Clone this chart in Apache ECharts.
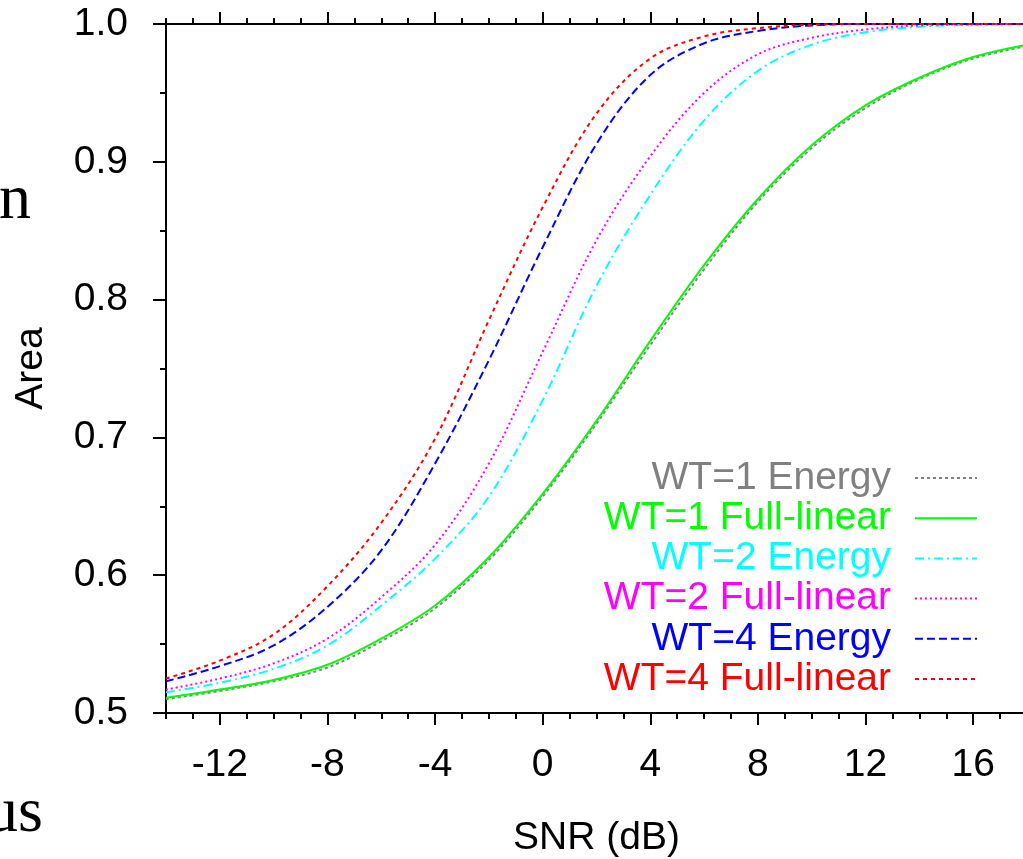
<!DOCTYPE html>
<html>
<head>
<meta charset="utf-8">
<script src="https://cdn.jsdelivr.net/npm/echarts@6/dist/echarts.min.js"></script>
<style>
html,body{margin:0;padding:0;background:#fff;overflow:hidden;}
#chart{width:1023px;height:859px;}
</style>
</head>
<body>
<div id="chart"></div>
<script>
// SNR (dB) sample points
const snr = [-14,-12,-10,-8,-6,-4,-2,0,2,4,6,8,10,12,14,16,18];
// Area values
const wt1Energy     = [0.510,0.516,0.523,0.533,0.552,0.576,0.611,0.657,0.710,0.767,0.822,0.871,0.910,0.939,0.960,0.975,0.984];
const wt1FullLinear = [0.511,0.517,0.524,0.535,0.554,0.578,0.613,0.659,0.712,0.770,0.825,0.873,0.912,0.941,0.961,0.976,0.985];
const wt2Energy     = [0.515,0.522,0.532,0.549,0.578,0.612,0.657,0.727,0.810,0.876,0.930,0.966,0.985,0.994,0.998,0.9995,1.0];
const wt2FullLinear = [0.517,0.525,0.536,0.554,0.584,0.622,0.681,0.762,0.843,0.904,0.950,0.978,0.990,0.996,0.999,0.9997,1.0];
const wt4Energy     = [0.523,0.534,0.549,0.577,0.618,0.681,0.756,0.838,0.913,0.963,0.986,0.995,0.999,1.0,1.0,1.0,1.0];
const wt4FullLinear = [0.525,0.538,0.557,0.592,0.638,0.699,0.785,0.867,0.935,0.975,0.991,0.997,0.9995,1.0,1.0,1.0,1.0];

const seriesNames = ['WT=1 Energy','WT=1 Full-linear','WT=2 Energy','WT=2 Full-linear','WT=4 Energy','WT=4 Full-linear'];
const seriesColors = ['#808080','#00ff00','#00ffff','#ff00ff','#0000ff','#ff0000'];
const seriesDash = [[3,3],'solid',[9,4,2,4],[2,3],[8,4],[4,4]];
const seriesValues = [wt1Energy,wt1FullLinear,wt2Energy,wt2FullLinear,wt4Energy,wt4FullLinear];

const xTickLabels = [-12,-8,-4,0,4,8,12,16];
const xMinorTicks = [-14,-13,-12,-11,-10,-9,-8,-7,-6,-5,-4,-3,-2,-1,0,1,2,3,4,5,6,7,8,9,10,11,12,13,14,15,16,17,18];
const yTickLabels = ['0.5','0.6','0.7','0.8','0.9','1.0'];

const X_MIN = -14, X_MAX = 18;
const FONT = '"Liberation Sans", Arial, Helvetica, sans-serif';
const chart = echarts.init(document.getElementById('chart'), null, {renderer:'canvas'});

const series = seriesNames.map((name,i)=>({
  name: name,
  type: 'line',
  xAxisIndex: 0,
  yAxisIndex: 0,
  data: snr.map((x,j)=>[x, seriesValues[i][j]]),
  showSymbol: false,
  symbol: 'none',
  smooth: 0.35,
  clip: true,
  color: seriesColors[i],
  lineStyle: {color: seriesColors[i], width: 2, type: seriesDash[i]},
  z: 2 + i
}));

const tickStyle = {color:'#000', width: 2};
function xAxisDef(position, major, showLine, withLabels) {
  const ax = {
    type: 'value', position: position, min: X_MIN, max: X_MAX,
    axisLine: {show: showLine, onZero: false, lineStyle: {color:'#000', width: 2}},
    splitLine: {show: false},
    axisTick: {show: true, inside: false, length: major ? 12 : 6, lineStyle: tickStyle,
               customValues: major ? xTickLabels : xMinorTicks},
    axisLabel: {show: false}
  };
  if (withLabels) {
    ax.axisLabel = {show: true, margin: 33, fontFamily: FONT, fontSize: 39, color: '#000', customValues: xTickLabels};
    ax.name = 'SNR (dB)';
    ax.nameLocation = 'middle';
    ax.nameGap = 106;
    ax.nameTextStyle = {fontFamily: FONT, fontSize: 39, color: '#000'};
  }
  return ax;
}

chart.setOption({
  animation: false,
  backgroundColor: '#fff',
  grid: {left: 166, top: 24, width: 861, height: 689, containLabel: false, outerBoundsMode: 'none'},
  xAxis: [
    xAxisDef('bottom', true, true, true),
    xAxisDef('bottom', false, false, false),
    xAxisDef('top', true, true, false),
    xAxisDef('top', false, false, false)
  ],
  yAxis: [{
    type: 'value', min: 0.5, max: 1.0, interval: 0.1,
    name: 'Area', nameLocation: 'middle', nameGap: 115, nameRotate: 90,
    nameTextStyle: {fontFamily: FONT, fontSize: 39, color: '#000'},
    axisLine: {show: true, onZero: false, lineStyle: {color:'#000', width: 2}},
    splitLine: {show: false},
    axisTick: {show: true, inside: false, length: 13, lineStyle: tickStyle},
    minorTick: {show: true, splitNumber: 2, length: 6, lineStyle: tickStyle},
    axisLabel: {
      show: true, margin: 38, fontFamily: FONT, fontSize: 39, color: '#000',
      formatter: v => { const s = v.toFixed(1); return yTickLabels.indexOf(s) >= 0 ? s : ''; }
    }
  }],
  legend: {
    show: true, orient: 'vertical', align: 'right',
    right: 45, top: 458, padding: 0,
    itemWidth: 62, itemHeight: 14, itemGap: 0.2,
    itemStyle: {opacity: 0},
    textStyle: {fontFamily: FONT, fontSize: 39, lineHeight: 40, padding: [0, 19, 0, 0]},
    data: seriesNames.map((n,i)=>({name: n, textStyle: {color: seriesColors[i]}}))
  },
  graphic: [
    {type: 'text', x: 31, y: 201, style: {text: 'an', fill: '#000', font: '64px "Liberation Serif", "Times New Roman", serif', align: 'right', verticalAlign: 'middle'}},
    {type: 'text', x: 43, y: 814, style: {text: 'us', fill: '#000', font: '64px "Liberation Serif", "Times New Roman", serif', align: 'right', verticalAlign: 'middle'}}
  ],
  series: series
});
</script>
</body>
</html>
